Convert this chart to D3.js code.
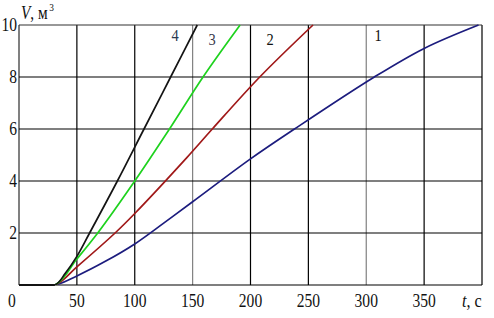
<!DOCTYPE html>
<html>
<head>
<meta charset="utf-8">
<script src="https://cdn.jsdelivr.net/npm/d3@7"></script>
<style>
  body { margin: 0; background: #fff; }
</style>
</head>
<body>
<div id="chart"></div>
<script>
// ---- data ----
const xTicks = [0, 50, 100, 150, 200, 250, 300, 350];
const yTicks = [2, 4, 6, 8, 10];

const curve1 = [[0,0],[31,0],[50,0.35],[75,0.92],[100,1.58],[125,2.38],[150,3.2],[200,4.85],[238,6.0],[307,8.0],[350,9.1],[397,10]];
const curve2 = [[0,0],[31,0],[50,0.7],[83,2.0],[100,2.75],[145,4.9],[167,6.0],[208,8.0],[254,10]];
const curve3 = [[0,0],[31,0],[50,1.0],[68,2.0],[100,4.0],[130,6.0],[159,8.0],[191,10]];
const curve4 = [[0,0],[31,0],[40,0.45],[50,1.1],[61,2.0],[85,4.0],[108,6.0],[131,8.0],[154,10]];

const seriesNames = ["1", "2", "3", "4"];
const seriesData = [curve1, curve2, curve3, curve4];
const seriesColors = ["#1c1c7e", "#a01818", "#1ed21e", "#141414"];
const labelPos = [[378, 9.4], [270, 9.25], [212, 9.25], [175, 9.4]];
const labelColors = ["#111", "#111", "#3a3a4a", "#2a3a50"];

const serif = "Liberation Serif, Times New Roman, DejaVu Serif, Noto Serif, serif";

// ---- layout ----
const width = 494, height = 318;
const svg = d3.select("#chart").append("svg")
  .attr("width", width).attr("height", height);

const x = d3.scaleLinear().domain([0, 400]).range([19, 482]);
const y = d3.scaleLinear().domain([0, 10]).range([285, 25]);

// grid
const grid = svg.append("g");
grid.selectAll("line.v")
  .data(xTicks.concat([400]))
  .join("line")
  .attr("x1", d => x(d)).attr("x2", d => x(d))
  .attr("y1", y(0)).attr("y2", y(10))
  .attr("stroke", d => (d === 0 || d === 150 || d === 300) ? "#808080" : "#000")
  .attr("stroke-width", d => d === 0 ? 2 : 1.2);
grid.selectAll("line.h")
  .data([0].concat(yTicks))
  .join("line")
  .attr("x1", x(0)).attr("x2", x(400))
  .attr("y1", d => y(d)).attr("y2", d => y(d))
  .attr("stroke", d => d === 10 ? "#333" : "#000")
  .attr("stroke-width", 1.2);

// curves
svg.append("clipPath").attr("id", "clip")
  .append("rect").attr("x", x(0)).attr("y", y(10) - 1)
  .attr("width", x(400) - x(0)).attr("height", y(0) - y(10) + 1);

const line = d3.line()
  .x(d => x(d[0])).y(d => y(d[1]))
  .curve(d3.curveCatmullRom.alpha(0.5));

svg.append("g").attr("clip-path", "url(#clip)")
  .selectAll("path")
  .data(seriesData)
  .join("path")
  .attr("d", line)
  .attr("fill", "none")
  .attr("stroke", (d, i) => seriesColors[i])
  .attr("stroke-width", 1.7);

// flat start along the axis (all curves coincide there)
svg.append("line")
  .attr("x1", x(0)).attr("x2", x(31))
  .attr("y1", y(0)).attr("y2", y(0))
  .attr("stroke", seriesColors[3]).attr("stroke-width", 2);

// curve labels
svg.selectAll("text.lbl")
  .data(seriesNames)
  .join("text")
  .attr("transform", (d, i) => `translate(${labelPos[i][0]},${y(labelPos[i][1])}) scale(0.85,1)`)
  .attr("text-anchor", "middle")
  .attr("font-family", serif)
  .attr("font-size", 17)
  .attr("fill", (d, i) => labelColors[i])
  .text(d => d);

// tick labels
svg.selectAll("text.xt")
  .data(xTicks)
  .join("text")
  .attr("transform", d => `translate(${d === 0 ? 12 : x(d)},307) scale(0.82,1)`)
  .attr("text-anchor", "middle")
  .attr("font-family", serif)
  .attr("font-size", 19)
  .attr("fill", "#111")
  .text(d => d);

svg.selectAll("text.yt")
  .data(yTicks)
  .join("text")
  .attr("transform", d => `translate(17,${y(d) + 6}) scale(0.82,1)`)
  .attr("text-anchor", "end")
  .attr("font-family", serif)
  .attr("font-size", 19)
  .attr("fill", "#111")
  .text(d => d);

// axis titles
const xt = svg.append("text")
  .attr("transform", "translate(462,307) scale(0.85,1)")
  .attr("font-family", serif)
  .attr("font-size", 19).attr("fill", "#111");
xt.append("tspan").attr("font-style", "italic").text("t");
xt.append("tspan").text(", с");

const yt = svg.append("text")
  .attr("transform", "translate(21,19) scale(0.85,1)")
  .attr("font-family", serif)
  .attr("font-size", 18).attr("fill", "#111");
yt.append("tspan").attr("font-style", "italic").text("V");
yt.append("tspan").text(", м");
yt.append("tspan").attr("font-size", 11).attr("dy", -8).attr("dx", 2).text("3");
</script>
</body>
</html>
